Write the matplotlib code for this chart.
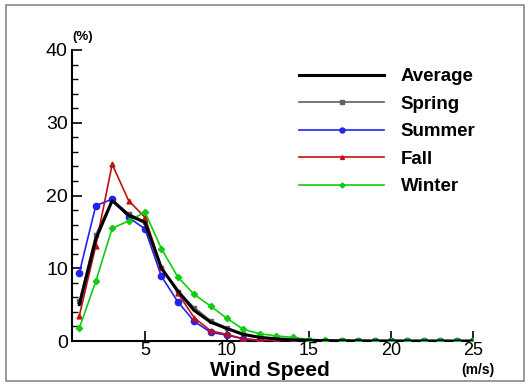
import numpy as np
import matplotlib
matplotlib.use('Agg')
import matplotlib.pyplot as plt
from matplotlib.patches import Rectangle

plt.rcParams['font.family'] = ['Liberation Sans', 'DejaVu Sans']

# Wind speed bins (m/s)
speed = list(range(1, 26))

# Frequency (%) per season
average = [5.0, 14.0, 19.3, 17.3, 16.3, 10.0, 6.9, 4.2, 2.6, 1.7, 0.9, 0.5, 0.3,
           0.15, 0.1, 0.05, 0.03, 0.02, 0.01, 0.01, 0, 0, 0, 0, 0]
spring = [5.5, 14.6, 19.4, 17.5, 16.4, 10.0, 6.8, 4.6, 2.8, 1.8, 1.0, 0.5, 0.3,
          0.15, 0.1, 0.05, 0.03, 0.02, 0.01, 0.01, 0, 0, 0, 0, 0]
summer = [9.4, 18.6, 19.5, 17.0, 15.4, 8.9, 5.4, 2.7, 1.2, 0.8, 0.3, 0.1, 0.05,
          0.02, 0.01, 0, 0, 0, 0, 0, 0, 0, 0, 0, 0]
fall = [3.5, 13.1, 24.3, 19.3, 17.0, 10.2, 6.6, 3.2, 1.4, 0.9, 0.3, 0.1, 0.05,
        0.02, 0.01, 0, 0, 0, 0, 0, 0, 0, 0, 0, 0]
winter = [1.8, 8.2, 15.5, 16.5, 17.7, 12.7, 8.8, 6.4, 4.8, 3.1, 1.6, 1.0, 0.7,
          0.5, 0.2, 0.1, 0.05, 0.03, 0.02, 0.01, 0.01, 0, 0, 0, 0]

fig = plt.figure(figsize=(5.3, 3.85), dpi=100)
fig.patches.append(Rectangle((6 / 530, 4 / 385), 518 / 530, 376 / 385,
                             transform=fig.transFigure, fill=False,
                             edgecolor='#8a8a8a', linewidth=1.2))

ax = fig.add_axes([72 / 530, 44 / 385, 401 / 530, 291 / 385])

ax.plot(speed, spring, color='#606060', lw=1.2, marker='s', ms=3, label='Spring', zorder=3)
ax.plot(speed, summer, color='#2222ee', lw=1.2, marker='o', ms=4.5, label='Summer', zorder=3)
ax.plot(speed, fall, color='#c01010', lw=1.2, marker='^', ms=3.5, label='Fall', zorder=3)
ax.plot(speed, winter, color='#11cc11', lw=1.2, marker='D', ms=3.2, label='Winter', zorder=3)
ax.plot(speed, average, color='black', lw=2.2, label='Average', zorder=4)

ax.set_xlim(0.55, 25)
ax.set_ylim(0, 40)
ax.set_xticks([5, 10, 15, 20, 25])
ax.set_yticks([0, 10, 20, 30, 40])
ax.set_yticks(np.arange(0, 41, 2), minor=True)
ax.tick_params(axis='both', direction='in', width=1.2, length=7, labelsize=14, pad=3)
ax.tick_params(axis='y', which='minor', direction='in', length=4, width=1)
ax.tick_params(axis='x', labelsize=13, pad=1)
for s in ['top', 'right']:
    ax.spines[s].set_visible(False)
for s in ['left', 'bottom']:
    ax.spines[s].set_linewidth(1.5)
ax.patch.set_alpha(0)

ax.text(0.55, 41, '(%)', fontsize=9.5, fontweight='bold', ha='left', va='bottom')
fig.text(270 / 530, 15 / 385, 'Wind Speed', fontsize=15, fontweight='bold', ha='center', va='center')
fig.text(478 / 530, 15 / 385, '(m/s)', fontsize=10, fontweight='bold', ha='center', va='center')

handles, labels = ax.get_legend_handles_labels()
order = [4, 0, 1, 2, 3]
leg = ax.legend([handles[i] for i in order], [labels[i] for i in order],
                loc='upper left', bbox_to_anchor=(0.525, 0.995), frameon=False,
                handlelength=4.5, handletextpad=0.9, labelspacing=0.55,
                prop={'weight': 'bold', 'size': 13.5}, markerscale=0.8)

fig.savefig('out.png', dpi=100)
